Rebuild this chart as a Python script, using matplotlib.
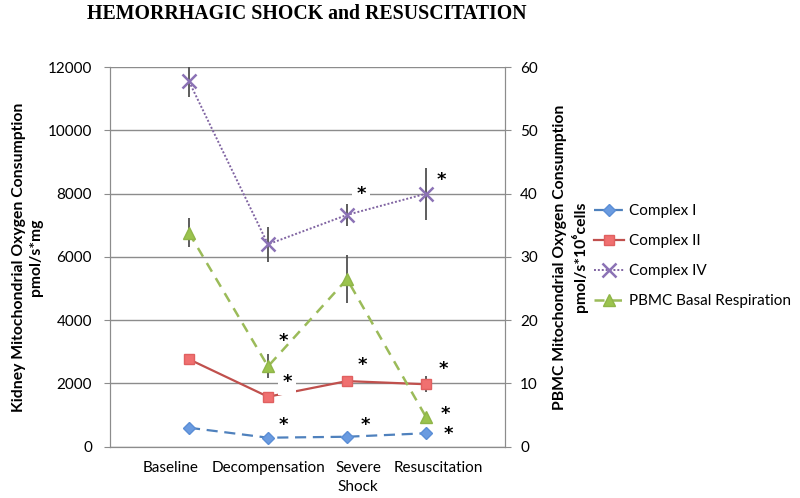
import matplotlib
matplotlib.use("Agg")
import matplotlib.pyplot as plt

plt.rcParams['font.family'] = ['Lato', 'DejaVu Sans']

categories = ["Baseline", "Decompensation", "Severe\nShock", "Resuscitation"]
complex1 = [600, 285, 315, 425]
complex1_err = [40, 30, 30, 40]
complex2 = [2765, 1580, 2075, 1975]
complex2_err = [120, 60, 80, 250]
complex4 = [11550, 6400, 7330, 8000]
complex4_err = [500, 550, 350, 820]
pbmc = [33.8, 12.7, 26.5, 4.7]
pbmc_err = [2.3, 1.9, 3.8, 0.5]

# asterisk annotations (x in category units, y in left-axis units)
stars_x = [3.18, 4.19, 2.20, 4.25, 2.24, 3.19, 4.22, 2.19, 3.23, 4.28]
stars_y = [8000, 8430, 3350, 1020, 2060, 2580, 2470, 690, 690, 400]
stars_box = [True, False, False, False, True, False, False, False, False, False]

blue = "#4F81BD"
red = "#C0504D"
purple = "#8064A2"
green = "#9BBB59"
errc = "#505050"
gridc = "#8C8C8C"

fig = plt.figure(figsize=(8, 4.98), dpi=100)
ax = fig.add_axes([0.1375, 0.103, 0.49375, 0.762])
ax2 = ax.twinx()

xs = [1, 2, 3, 4]
# label centres are shifted slightly from the points, as in the reference
label_pos = [0.77, 2.0, 3.14, 4.15]

ax.set_xlim(0, 5)
ax.set_ylim(0, 12000)
ax.set_yticks(range(0, 12001, 2000))
ax2.set_ylim(0, 60)
ax2.set_yticks(range(0, 61, 10))

ax.yaxis.grid(True, color=gridc, linewidth=1.0)
ax.set_axisbelow(True)

ax.set_xticks(label_pos)
ax.set_xticklabels(categories, fontsize=11, linespacing=1.45)
ax.tick_params(axis='x', length=0, pad=10)
ax.tick_params(axis='y', length=4, color=gridc, labelsize=11, pad=9)
ax2.tick_params(axis='y', length=4, color=gridc, labelsize=11, pad=7)

for a in (ax, ax2):
    a.spines['top'].set_visible(False)
    for s in ['left', 'right', 'bottom']:
        a.spines[s].set_color(gridc)

# error bars
ax.errorbar(xs, complex4, yerr=complex4_err, fmt='none', ecolor=errc, elinewidth=1.3, capsize=0, zorder=3)
ax.errorbar(xs, complex2, yerr=complex2_err, fmt='none', ecolor=errc, elinewidth=1.3, capsize=0, zorder=3)
ax.errorbar(xs, complex1, yerr=complex1_err, fmt='none', ecolor=errc, elinewidth=1.3, capsize=0, zorder=3)
ax2.errorbar(xs, pbmc, yerr=pbmc_err, fmt='none', ecolor=errc, elinewidth=1.3, capsize=0, zorder=3)

l1, = ax.plot(xs, complex1, linestyle=(0, (5, 3)), color=blue, linewidth=1.6,
              marker='D', markersize=6.5, markerfacecolor='#6A9BE0', markeredgecolor='#5B8ED6', label="Complex I", zorder=4)
l2, = ax.plot(xs, complex2, linestyle='-', color=red, linewidth=1.6,
              marker='s', markersize=7.5, markerfacecolor='#F07070', markeredgecolor='#E06060', label="Complex II", zorder=4)
l4, = ax.plot(xs, complex4, linestyle=(0, (1, 1)), color=purple, linewidth=1.4,
              marker='x', markersize=10, markeredgewidth=1.8, markeredgecolor='#8B72B5', label="Complex IV", zorder=4)
l5, = ax2.plot(xs, pbmc, linestyle=(0, (4, 3)), color=green, linewidth=1.8,
               marker='^', markersize=9, markerfacecolor='#9BC34E', markeredgecolor='#8FB548', label="PBMC Basal Respiration", zorder=4)

for x, y, b in zip(stars_x, stars_y, stars_box):
    kw = {}
    if b:
        kw['bbox'] = dict(facecolor='white', edgecolor='none', pad=3)
    ax.text(x, y, "*", fontsize=13, fontweight='bold', ha='center', va='center', color='black', zorder=6,
            family=['DejaVu Sans'], **kw)

ax.set_ylabel("Kidney Mitochondrial Oxygen Consumption\npmol/s*mg", fontsize=11.3,
              fontweight='bold', labelpad=3, linespacing=1.3)
ax2.set_ylabel("PBMC Mitochondrial Oxygen Consumption\npmol/s*10⁶cells", fontsize=11.3,
               fontweight='bold', rotation=90, labelpad=11, linespacing=1.25)

fig.text(0.383, 0.972, "HEMORRHAGIC SHOCK and RESUSCITATION", ha='center', va='center',
         fontsize=14.3, fontweight='bold', family=['Liberation Serif'])

fig.legend(handles=[l1, l2, l4, l5], loc='center left', bbox_to_anchor=(0.742, 0.486),
           frameon=False, fontsize=11, handlelength=2.0, handletextpad=0.3,
           labelspacing=1.05, borderpad=0, borderaxespad=0)

fig.savefig("out.png", dpi=100)
